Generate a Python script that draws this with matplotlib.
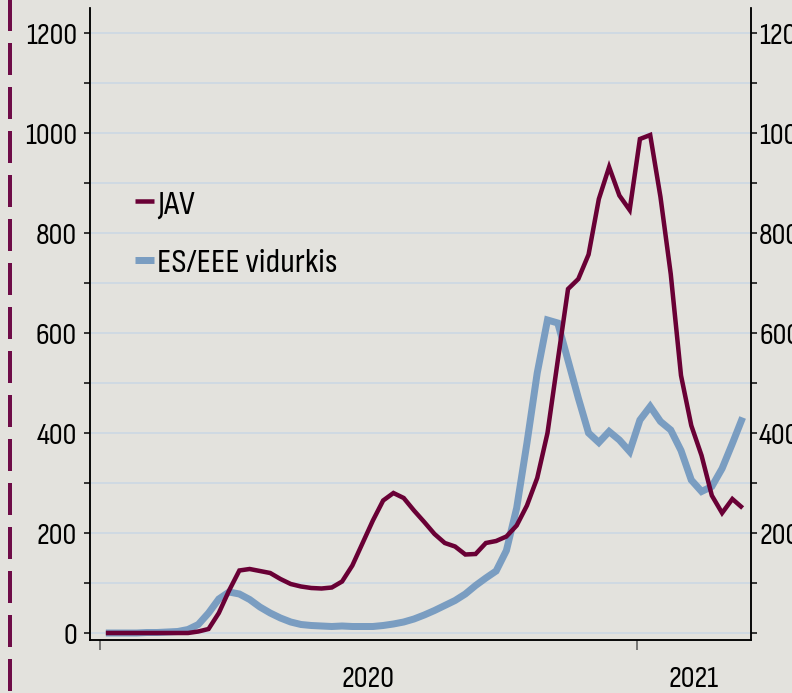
import matplotlib
matplotlib.use("Agg")
import matplotlib.pyplot as plt
import matplotlib.dates as mdates
from matplotlib.lines import Line2D
from matplotlib.ticker import FixedLocator, MultipleLocator, NullFormatter
import pandas as pd

# weekly data, first week ending 2020-01-05
weeks = pd.date_range("2020-01-05", periods=63, freq="7D")
jav = [0, 0, 0, 0, 0, 0, 0, 0, 0,
       3, 8, 40, 85, 125, 128, 124, 120, 108, 98,
       93, 90, 89, 91, 103, 135, 180, 225, 265, 280,
       270, 245, 222, 198, 180, 173, 157, 158, 180, 184,
       193, 215, 255, 310, 400, 545, 688, 708, 757, 868,
       932, 875, 846, 988, 996, 872, 718, 515, 415, 355,
       275, 240, 268, 250]
es_eee = [0, 0, 0, 0, 1, 1, 2, 3, 7,
          17, 40, 68, 82, 78, 67, 52, 40, 30, 22,
          17, 15, 14, 13, 14, 13, 13, 13, 15, 18,
          22, 28, 36, 45, 55, 65, 78, 95, 110, 124,
          165, 250, 380, 520, 626, 620, 545, 470, 400, 381,
          403, 386, 363, 426, 453, 423, 406, 365, 306, 283,
          293, 329, 379, 431]
series_labels = ["JAV", "ES/EEE vidurkis"]
year_labels = ["2020", "2021"]

maroon = "#690035"
blue = "#7a9dc1"
bg = "#e3e2dd"
grid_col = "#cfd9e2"

plt.rcParams["font.family"] = ["Sofia Sans Condensed", "PT Sans Narrow", "DejaVu Sans"]
plt.rcParams["lines.scale_dashes"] = False

fig = plt.figure(figsize=(11, 9.625), dpi=72, facecolor=bg)
ax = fig.add_axes([90 / 792, 53 / 693, 661 / 792, 632 / 693], facecolor=bg)

l_es, = ax.plot(weeks, es_eee, color=blue, lw=7, solid_capstyle="butt",
                solid_joinstyle="miter", zorder=3)
l_jav, = ax.plot(weeks, jav, color=maroon, lw=4.5, solid_capstyle="butt",
                 solid_joinstyle="miter", zorder=4)

# axes ranges
start = pd.Timestamp("2020-01-01")
ax.set_xlim(start - pd.Timedelta(days=6.8), start + pd.Timedelta(days=443.7))
ax.set_ylim(-14, 1250)

# y axis
ax.yaxis.set_major_locator(MultipleLocator(200))
ax.yaxis.set_minor_locator(MultipleLocator(100))
ax.tick_params(axis="y", which="both", direction="out", length=6, width=1.5,
               labelsize=31, pad=7, colors="black")
ax.yaxis.grid(True, which="both", color=grid_col, lw=2)
ax.set_axisbelow(True)

# right axis, same scale
ax2 = ax.twinx()
ax2.set_ylim(ax.get_ylim())
ax2.yaxis.set_major_locator(FixedLocator(range(0, 1201, 200)))
ax2.set_yticklabels([""] + [str(v) for v in range(200, 1201, 200)])
ax2.yaxis.set_minor_locator(MultipleLocator(100))
ax2.tick_params(axis="y", which="both", direction="out", length=6, width=1.5,
                labelsize=31, pad=2)

# x axis: year boundaries as ticks, year names centred
y2020 = mdates.date2num(pd.Timestamp("2020-01-01"))
y2021 = mdates.date2num(pd.Timestamp("2021-01-01"))
xmax = ax.get_xlim()[1]
ax.xaxis.set_major_locator(FixedLocator([y2020, y2021]))
ax.xaxis.set_major_formatter(NullFormatter())
ax.xaxis.set_minor_locator(FixedLocator([(y2020 + y2021) / 2, (y2021 + xmax) / 2]))
ax.set_xticklabels(year_labels, minor=True)
ax.tick_params(axis="x", which="major", direction="out", length=10, width=1.5,
               color="#555555")
ax.tick_params(axis="x", which="minor", length=0, labelsize=31, pad=26)

for a in (ax, ax2):
    a.spines["top"].set_visible(False)
    for s in ("left", "right", "bottom"):
        a.spines[s].set_linewidth(1.5)
        a.spines[s].set_color("black")

ax.legend([l_jav, l_es], series_labels, loc="upper left",
          bbox_to_anchor=(135 / 792, 1 - 189 / 693), bbox_transform=fig.transFigure,
          frameon=False, fontsize=35, handlelength=0.55, handletextpad=0.09,
          labelspacing=0.8, borderpad=0, borderaxespad=0)

# decorative dashed rule at the left edge
fig.add_artist(Line2D([9.5 / 792, 9.5 / 792], [1 + 9 / 693, -0.05],
                      transform=fig.transFigure, color="#6e0c47", lw=4,
                      dashes=(32, 12), dash_capstyle="butt"))

fig.savefig("out.png", dpi=72, facecolor=bg)
